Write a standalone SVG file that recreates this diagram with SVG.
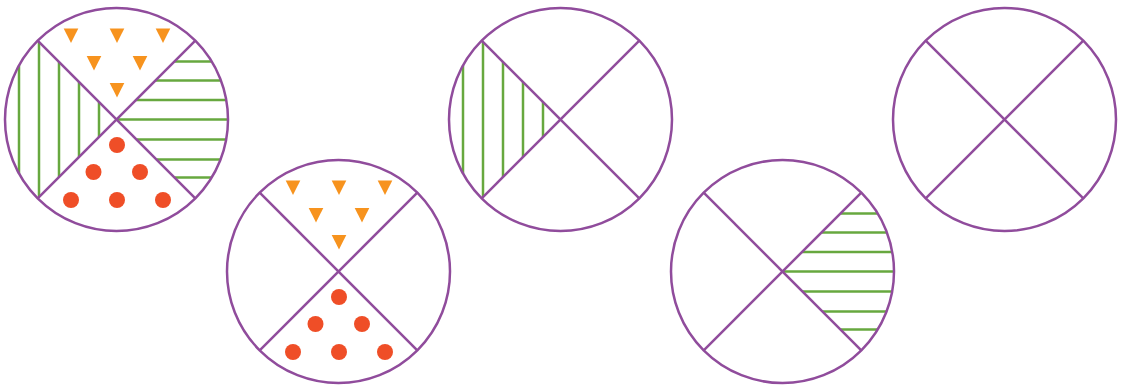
<svg xmlns="http://www.w3.org/2000/svg" xmlns:xlink="http://www.w3.org/1999/xlink" width="1123" height="386" viewBox="0 0 1123 386">
<style>
.p{fill:none;stroke:#904c9c;stroke-width:2.5}
.g{stroke:#67a83f;stroke-width:2.5;fill:none}
.t{fill:#f7931e}
.d{fill:#ef4e27}
</style>
<defs>
<g id="base">
<circle class="p" cx="0" cy="0" r="111.5"/>
<line class="p" x1="-78.8" y1="-78.8" x2="78.8" y2="78.8"/>
<line class="p" x1="78.8" y1="-78.8" x2="-78.8" y2="78.8"/>
</g>
<polygon id="tri" class="t" points="-7.3,0 7.3,0 0,14.5"/>
<g id="tris">
<use xlink:href="#tri" x="-45.5" y="-91"/>
<use xlink:href="#tri" x="0.5" y="-91"/>
<use xlink:href="#tri" x="46.5" y="-91"/>
<use xlink:href="#tri" x="-22.5" y="-63.5"/>
<use xlink:href="#tri" x="23.5" y="-63.5"/>
<use xlink:href="#tri" x="0.5" y="-36.5"/>
</g>
<g id="dots">
<circle class="d" cx="0.5" cy="25.5" r="8"/>
<circle class="d" cx="-23" cy="52.5" r="8"/>
<circle class="d" cx="23.5" cy="52.5" r="8"/>
<circle class="d" cx="-45.5" cy="80.5" r="8"/>
<circle class="d" cx="0.5" cy="80.5" r="8"/>
<circle class="d" cx="46.5" cy="80.5" r="8"/>
</g>
<g id="vert">
<line class="g" x1="-97.5" y1="-54.1" x2="-97.5" y2="54.1"/>
<line class="g" x1="-77.5" y1="-77.5" x2="-77.5" y2="77.5"/>
<line class="g" x1="-57.5" y1="-57.5" x2="-57.5" y2="57.5"/>
<line class="g" x1="-37.5" y1="-37.5" x2="-37.5" y2="37.5"/>
<line class="g" x1="-17.5" y1="-17.5" x2="-17.5" y2="17.5"/>
</g>
<g id="horiz">
<line class="g" x1="58" y1="-58" x2="95.2" y2="-58"/>
<line class="g" x1="39" y1="-39" x2="104.5" y2="-39"/>
<line class="g" x1="19.5" y1="-19.5" x2="109.8" y2="-19.5"/>
<line class="g" x1="0" y1="0" x2="111.5" y2="0"/>
<line class="g" x1="20" y1="20" x2="109.7" y2="20"/>
<line class="g" x1="40" y1="40" x2="104.1" y2="40"/>
<line class="g" x1="58" y1="58" x2="95.2" y2="58"/>
</g>
</defs>
<g id="node1" transform="translate(116.5,119.5)">
<use xlink:href="#vert"/>
<use xlink:href="#horiz"/>
<use xlink:href="#tris"/>
<use xlink:href="#dots"/>
<use xlink:href="#base"/>
</g>
<g id="node2" transform="translate(338.5,271.5)">
<use xlink:href="#tris"/>
<use xlink:href="#dots"/>
<use xlink:href="#base"/>
</g>
<g id="node3" transform="translate(560.5,119.5)">
<use xlink:href="#vert"/>
<use xlink:href="#base"/>
</g>
<g id="node4" transform="translate(782.5,271.5)">
<use xlink:href="#horiz"/>
<use xlink:href="#base"/>
</g>
<g id="node5" transform="translate(1004.5,119.5)">
<use xlink:href="#base"/>
</g>
<g id="connectors"/>
</svg>
